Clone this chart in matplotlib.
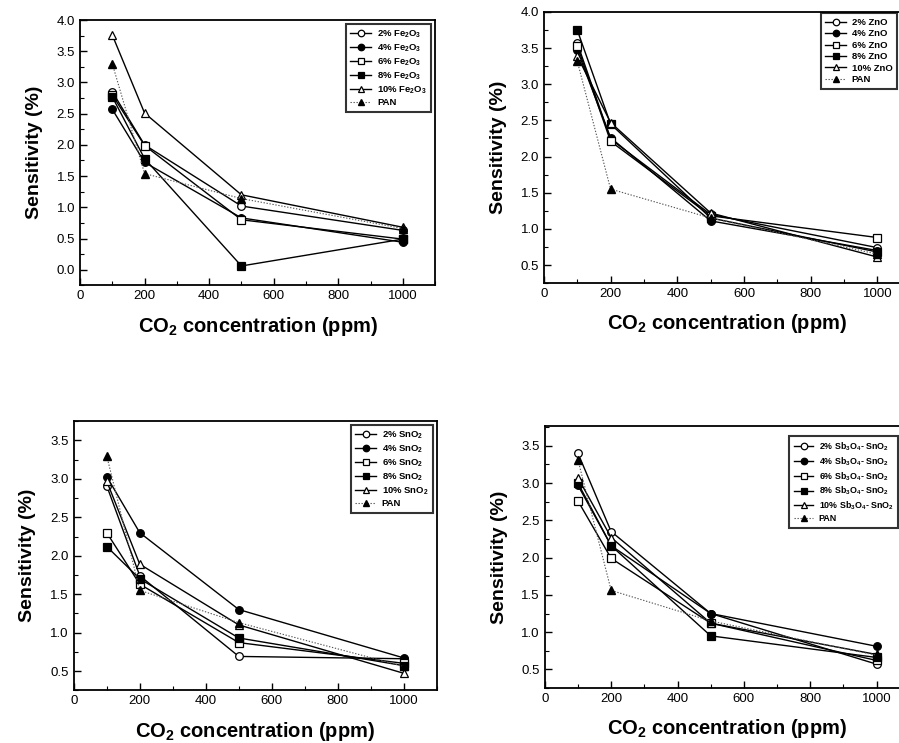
import matplotlib
matplotlib.use("Agg")
import matplotlib.pyplot as plt
from matplotlib.ticker import MultipleLocator

plt.rcParams['font.family'] = ['Liberation Sans', 'DejaVu Sans']
plt.rcParams['mathtext.default'] = 'bf'
plt.rcParams['mathtext.fontset'] = 'custom'
plt.rcParams['mathtext.bf'] = 'Liberation Sans:bold'
plt.rcParams['mathtext.rm'] = 'Liberation Sans'

concentration = [100, 200, 500, 1000]
levels = ["2%", "4%", "6%", "8%", "10%"]

# Fe2O3 panel
fe_2 = [2.85, 2.00, 1.02, 0.63]
fe_4 = [2.57, 1.72, 0.83, 0.44]
fe_6 = [2.80, 1.99, 0.80, 0.49]
fe_8 = [2.77, 1.78, 0.06, 0.49]
fe_10 = [3.76, 2.51, 1.20, 0.68]
fe_pan = [3.30, 1.54, 1.14, 0.66]

# ZnO panel
zn_2 = [3.57, 2.24, 1.20, 0.74]
zn_4 = [3.47, 2.26, 1.11, 0.70]
zn_6 = [3.53, 2.21, 1.18, 0.88]
zn_8 = [3.75, 2.45, 1.15, 0.68]
zn_10 = [3.39, 2.47, 1.22, 0.61]
zn_pan = [3.32, 1.55, 1.15, 0.65]

# SnO2 panel
sn_2 = [2.91, 1.74, 0.69, 0.66]
sn_4 = [3.03, 2.30, 1.30, 0.67]
sn_6 = [2.30, 1.63, 0.87, 0.60]
sn_8 = [2.12, 1.70, 0.93, 0.57]
sn_10 = [2.97, 1.89, 1.10, 0.47]
sn_pan = [3.30, 1.55, 1.13, 0.56]

# Sb3O4-SnO2 panel
sb_2 = [3.40, 2.35, 1.25, 0.57]
sb_4 = [2.97, 2.16, 1.25, 0.81]
sb_6 = [2.76, 1.99, 1.12, 0.62]
sb_8 = [3.00, 2.16, 0.95, 0.66]
sb_10 = [3.07, 2.27, 1.12, 0.70]
sb_pan = [3.31, 1.56, 1.15, 0.69]

fe_label = r"Fe$_2$O$_3$"
zn_label = "ZnO"
sn_label = r"SnO$_2$"
sb_label = r"Sb$_3$O$_4$- SnO$_2$"

marker_styles = [("o", "white"), ("o", "black"), ("s", "white"), ("s", "black"), ("^", "white")]

fig = plt.figure(figsize=(8.99, 7.43), dpi=100)

# rect, series, pan, material, ylim, yticks, legend anchor (figure coords) or None, legend font size
panels = [
    ([0.089, 0.616, 0.395, 0.357], [fe_2, fe_4, fe_6, fe_8, fe_10], fe_pan, fe_label, (-0.25, 4.0),
     [0, 0.5, 1.0, 1.5, 2.0, 2.5, 3.0, 3.5, 4.0], None, 6.8),
    ([0.605, 0.619, 0.408, 0.365], [zn_2, zn_4, zn_6, zn_8, zn_10], zn_pan, zn_label, (0.25, 4.0),
     [0.5, 1.0, 1.5, 2.0, 2.5, 3.0, 3.5, 4.0], (0.998, 0.982), 6.8),
    ([0.082, 0.071, 0.404, 0.362], [sn_2, sn_4, sn_6, sn_8, sn_10], sn_pan, sn_label, (0.25, 3.75),
     [0.5, 1.0, 1.5, 2.0, 2.5, 3.0, 3.5], None, 6.8),
    ([0.606, 0.074, 0.406, 0.353], [sb_2, sb_4, sb_6, sb_8, sb_10], sb_pan, sb_label, (0.25, 3.77),
     [0.5, 1.0, 1.5, 2.0, 2.5, 3.0, 3.5], (0.999, 0.413), 6.4),
]

for rect, series, pan, mat, ylim, yticks, anchor, lfs in panels:
    ax = fig.add_axes(rect)
    for lev, vals, (mk, fc) in zip(levels, series, marker_styles):
        ax.plot(concentration, vals, color="black", lw=1.0, marker=mk,
                mfc=fc, mec="black", mew=0.9, ms=5.5, label=f"{lev} {mat}")
    ax.plot(concentration, pan, color="#555555", lw=0.8, ls=(0, (1.2, 1.5)),
            marker="^", mfc="black", mec="black", ms=5.5, label="PAN")
    ax.set_xlim(0, 1100)
    ax.set_ylim(*ylim)
    ax.set_xticks([0, 200, 400, 600, 800, 1000])
    ax.set_yticks(yticks)
    ax.set_yticklabels([f"{v:.1f}" for v in yticks])
    ax.xaxis.set_minor_locator(MultipleLocator(100))
    ax.yaxis.set_minor_locator(MultipleLocator(0.25))
    ax.tick_params(which="both", direction="in", top=False, right=False, labelsize=9.5)
    ax.tick_params(which="major", length=5, width=1)
    ax.tick_params(which="minor", length=3, width=0.8)
    for sp in ax.spines.values():
        sp.set_linewidth(1.3)
    ax.set_xlabel(r"CO$_2$ concentration (ppm)", fontsize=14.5, fontweight="bold", labelpad=9)
    ax.set_ylabel("Sensitivity (%)", fontsize=14, fontweight="bold", labelpad=10)
    kw = dict(frameon=True, fancybox=False, edgecolor="black", handlelength=2.2,
              handletextpad=0.6, labelspacing=0.25, borderpad=0.5, markerscale=0.85,
              prop={"weight": "bold", "size": lfs})
    if anchor is None:
        leg = ax.legend(loc="upper right", borderaxespad=0.4, **kw)
    else:
        leg = ax.legend(loc="upper right", bbox_to_anchor=anchor,
                        bbox_transform=fig.transFigure, borderaxespad=0.0, **kw)
    leg.get_frame().set_linewidth(1.5)

fig.savefig("out.png", dpi=100)
